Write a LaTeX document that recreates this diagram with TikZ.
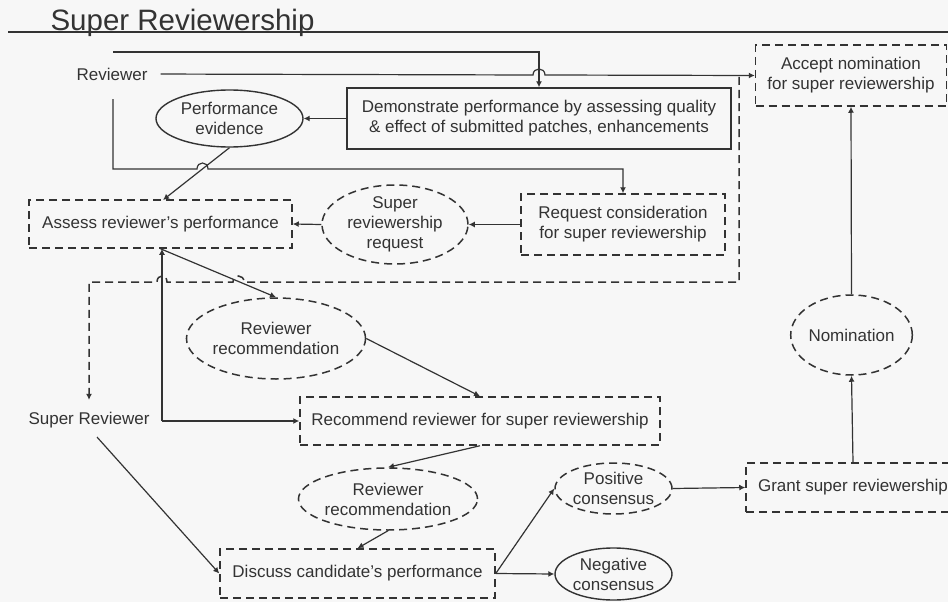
\documentclass[tikz,border=0pt]{standalone}
\usepackage{fontspec}
\setmainfont{Liberation Sans}
\usetikzlibrary{arrows.meta,shapes.geometric}
\definecolor{ink}{HTML}{333333}
\definecolor{paper}{HTML}{F7F7F7}

\begin{document}
\begin{tikzpicture}[
  x=1pt, y=-1pt,
  font=\fontsize{17}{20}\selectfont, text=ink,
  task/.style={draw=ink, line width=1.5pt, dash pattern=on 8pt off 5pt, rectangle, inner sep=0pt, align=center},
  solidtask/.style={draw=ink, line width=1.4pt, rectangle, inner sep=0pt, align=center},
  token/.style={draw=ink, line width=1.5pt, dash pattern=on 8pt off 5pt, ellipse, inner sep=0pt, align=center},
  solidtoken/.style={draw=ink, line width=1.4pt, ellipse, inner sep=0pt, align=center},
  role/.style={inner sep=0pt, align=center},
  flow/.style={-{Latex[length=6pt,width=6pt]}, draw=ink, line width=1.2pt},
  dflow/.style={flow, line width=1.5pt, dash pattern=on 8pt off 5pt}
]
\useasboundingbox[fill=paper] (0,0) rectangle (948,602);

% Title
\node[anchor=base west, font=\fontsize{29.5}{34}\selectfont] (title) at (47,31) {Super Reviewership};
\draw[ink, line width=1.3pt] (8,32) -- (948,32);

% Roles
\node[role] (reviewer) at (112,74) {Reviewer};
\node[role] (superrev) at (89,420) {Super Reviewer};

% Nodes (top)
\node[task, minimum width=191pt, minimum height=61pt] (accept) at (851,75.5) {Accept nomination\\for super reviewership};
\node[solidtask, minimum width=384pt, minimum height=61pt] (demo) at (539,118.5) {Demonstrate performance by assessing quality\\\& effect of submitted patches, enhancements};
\node[solidtoken, minimum width=147pt, minimum height=57pt] (perfev) at (229.5,118.5) {Performance\\evidence};

% Nodes (request row)
\node[task, minimum width=263pt, minimum height=48pt] (assess) at (160.5,224) {Assess reviewer's performance};
\node[token, minimum width=146pt, minimum height=79pt] (srreq) at (395,224.5) {Super\\reviewership\\request};
\node[task, minimum width=204pt, minimum height=61pt] (request) at (623,224.5) {Request consideration\\for super reviewership};

% Nodes (recommendation)
\node[token, minimum width=178pt, minimum height=81pt] (revrec1) at (276,338.5) {Reviewer\\recommendation};
\node[task, minimum width=360pt, minimum height=48pt] (recommend) at (480,421) {Recommend reviewer for super reviewership};
\node[token, minimum width=172pt, minimum height=62pt] (revrec2) at (388,499) {Reviewer\\recommendation};
\node[task, minimum width=275pt, minimum height=49pt] (discuss) at (357.5,573.5) {Discuss candidate's performance};

% Nodes (consensus and grant)
\node[token, minimum width=117pt, minimum height=51pt] (positive) at (613.5,488.5) {Positive\\consensus};
\node[solidtoken, minimum width=117pt, minimum height=52pt] (negative) at (613.5,574) {Negative\\consensus};
\node[task, minimum width=214pt, minimum height=49pt] (grant) at (853,487.5) {Grant super reviewership};
\node[token, minimum width=119pt, minimum height=80pt] (nomination) at (851.5,335) {Nomination};

% Free ends
\coordinate (revtop) at (113,52);
\coordinate (revlow) at (113,99);
\coordinate (dsplit) at (739,77);
\coordinate (srjoin) at (162,421);

% Reviewer connectivity
\draw[flow] (revtop) -| (demo.north);
\draw[flow, shorten <=13pt] (reviewer.east) -- (533,75) .. controls (533,67) and (545,67) .. (545,75) -- (accept.west);
\draw[flow] (revlow) -- (113,169) -- (197,169) .. controls (197,161) and (208,161) .. (208,169) -| (request.north);
\draw[flow] (demo.west) -- (perfev.east);
\draw[flow] (perfev.south) -- (163,200);
\draw[flow] (request.west) -- (srreq.east);
\draw[flow] (srreq.west) -- (assess.east);

% Dashed link down to super reviewer
\draw[dflow, shorten >=12pt] (dsplit) -- (739,282) -- (244,282) .. controls (244,274) and (233,274) .. (233,282)
  -- (167,282) .. controls (167,274) and (157,274) .. (157,282) -| (superrev.north);

% Recommendation branch
\draw[flow] (assess.south) -- (revrec1.north);
\draw[flow] (revrec1.east) -- (recommend.north);
\draw[flow] (srjoin) -- (recommend.west);
\draw[flow] (srjoin) -- (srjoin |- assess.south);
\draw[flow] (recommend.south) -- (revrec2.north);
\draw[flow] (revrec2.south) -- (discuss.north);
\draw[flow, shorten <=12pt] (superrev.south) -- (discuss.west);

% Consensus and grant
\draw[flow] (discuss.east) -- (positive.west);
\draw[flow] (discuss.east) -- (negative.west);
\draw[flow] (positive.east) -- (grant.west);
\draw[flow] (grant.north) -- (nomination.south);
\draw[flow] (nomination.north) -- (accept.south);

\end{tikzpicture}
\end{document}
